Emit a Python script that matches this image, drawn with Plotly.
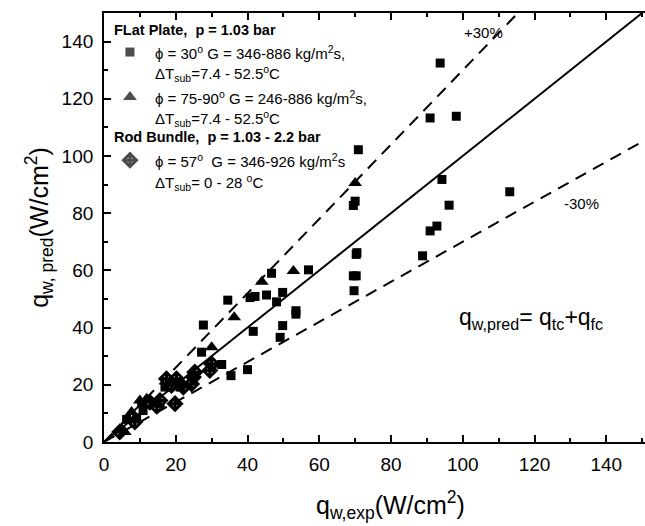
import plotly.graph_objects as go

# Flat plate, phi = 30 deg (filled squares)
sq_exp = [93.7, 90.9, 98.2, 70.9, 70.0, 69.5, 94.2, 113.1, 96.2, 92.8, 90.9, 88.8,
          70.3, 70.5, 69.5, 70.3, 69.7, 57.0, 46.7, 45.3, 42.1, 40.7, 49.8, 48.1,
          34.5, 53.5, 53.5, 49.8, 41.6, 49.1, 27.7, 27.2, 32.8, 35.4, 40.0,
          6.3, 9.1, 10.9, 17.0, 19.8, 21.2, 10.5]
sq_pred = [132.5, 113.3, 113.9, 102.2, 84.2, 82.7, 91.8, 87.5, 82.8, 75.5, 73.8, 65.1,
           65.6, 66.2, 58.1, 58.1, 52.9, 60.2, 59.0, 51.4, 50.9, 50.5, 52.3, 49.0,
           49.6, 45.9, 44.7, 40.7, 38.7, 36.6, 40.9, 31.4, 27.1, 23.2, 25.3,
           7.9, 8.4, 11.0, 19.2, 20.9, 19.2, 13.4]

# Flat plate, phi = 75-90 deg (filled triangles)
tri_exp = [70.0, 52.8, 44.0, 36.3, 30.0, 10.0, 7.7, 4.9, 5.8, 11.9]
tri_pred = [90.6, 59.8, 56.0, 43.6, 33.1, 14.5, 10.5, 4.6, 3.5, 15.1]

# Rod bundle, phi = 57 deg (crossed diamonds)
dia_exp = [29.5, 30.0, 24.9, 24.4, 25.3, 19.8, 14.7, 18.8, 17.4, 20.2, 8.6, 4.4, 12.8, 15.6, 22.1]
dia_pred = [25.0, 27.3, 22.7, 20.3, 24.4, 13.4, 12.5, 19.8, 22.1, 22.1, 7.0, 3.5, 13.9, 14.5, 19.2]

# Reference lines: perfect agreement and +/-30 % bands
axis_max = 150
band = 0.30
x_view = [0, 150.8]   # visible x window; the frame runs on past the right edge
y_view = [0, 150]

FONT = "Liberation Sans, Arial, sans-serif"

fig = go.Figure()

fig.add_trace(go.Scatter(x=[0, axis_max], y=[0, axis_max], mode="lines",
                         line=dict(color="black", width=2), showlegend=False))
fig.add_trace(go.Scatter(x=[0, axis_max / (1 + band)], y=[0, axis_max], mode="lines",
                         line=dict(color="black", width=2, dash="12px,8px"), showlegend=False))
fig.add_trace(go.Scatter(x=[0, x_view[1]], y=[0, x_view[1] * (1 - band)], mode="lines",
                         line=dict(color="black", width=2, dash="12px,8px"), showlegend=False))

fig.add_trace(go.Scatter(x=sq_exp, y=sq_pred, mode="markers",
                         marker=dict(symbol="square", size=9, color="black"), showlegend=False))
fig.add_trace(go.Scatter(x=tri_exp, y=tri_pred, mode="markers",
                         marker=dict(symbol="triangle-up", size=12, color="black"), showlegend=False))
fig.add_trace(go.Scatter(x=dia_exp, y=dia_pred, mode="markers",
                         marker=dict(symbol="diamond-cross-open", size=10, color="black",
                                     line=dict(width=3, color="black")), showlegend=False))

# Legend symbols on an overlay axis spanning the plot area (0..1)
fig.add_trace(go.Scatter(x=[0.048, 0.048, 0.048], y=[0.909, 0.804, 0.657], mode="markers",
                         marker=dict(symbol=["square", "triangle-up", "diamond-cross-open"],
                                     size=[9, 12, 10], color="black",
                                     line=dict(width=[0, 0, 3], color="black")),
                         xaxis="x2", yaxis="y2", showlegend=False, hoverinfo="skip"))

tick_font = dict(family=FONT, size=19, color="black")
common = dict(dtick=20, ticks="inside", ticklen=7, tickwidth=1.5,
              tickcolor="black", showline=True, linecolor="black", linewidth=1.8,
              showgrid=False, zeroline=False, tickfont=tick_font,
              minor=dict(dtick=10, ticks="inside", ticklen=4, tickwidth=1.5, tickcolor="black"))

fig.update_layout(
    width=645, height=526,
    margin=dict(l=104, r=0, t=13, b=84),
    plot_bgcolor="white", paper_bgcolor="white",
    font=dict(family=FONT, color="black"),
    xaxis=dict(**common, range=x_view, mirror="ticks", ticklabelstandoff=4),
    yaxis=dict(**common, range=y_view, mirror=False, ticklabelstandoff=5,
               title=dict(text="q<sub>w, pred</sub>(W/cm<sup>2</sup>)",
                          font=dict(family=FONT, size=25), standoff=6)),
    xaxis2=dict(range=[0, 1], overlaying="x", visible=False),
    yaxis2=dict(range=[0, 1], overlaying="y", visible=False),
)

def note(text, x, y, size=15, xanchor="left"):
    fig.add_annotation(text=text, x=x, y=y, xref="paper", yref="paper", showarrow=False,
                       xanchor=xanchor, yanchor="middle", font=dict(family=FONT, size=size, color="black"))

note("<b>FLat Plate,  p = 1.03 bar</b>", 0.015, 0.960, size=14.5)
note("\u03d5 = 30<sup>o</sup> G = 346-886 kg/m<sup>2</sup>s,", 0.090, 0.909)
note("\u0394T<sub>sub</sub>=7.4 - 52.5<sup>o</sup>C", 0.090, 0.858)
note("\u03d5 = 75-90<sup>o</sup> G = 246-886 kg/m<sup>2</sup>s,", 0.090, 0.804)
note("\u0394T<sub>sub</sub>=7.4 - 52.5<sup>o</sup>C", 0.090, 0.755)
note("<b>Rod Bundle,  p = 1.03 - 2.2 bar</b>", 0.015, 0.711, size=14.5)
note("\u03d5 = 57<sup>o</sup>  G = 346-926 kg/m<sup>2</sup>s", 0.090, 0.657)
note("\u0394T<sub>sub</sub>= 0 - 28 <sup>o</sup>C", 0.090, 0.606)

note("+30%", 0.662, 0.955)
note("-30%", 0.847, 0.556)
note("q<sub>w,pred</sub>= q<sub>tc</sub>+q<sub>fc</sub>", 0.652, 0.289, size=23)

# x-axis title, centred on the full frame width
note("q<sub>w,exp</sub>(W/cm<sup>2</sup>)", 0.53, -0.148, size=25, xanchor="center")

fig.write_html("out.html")
